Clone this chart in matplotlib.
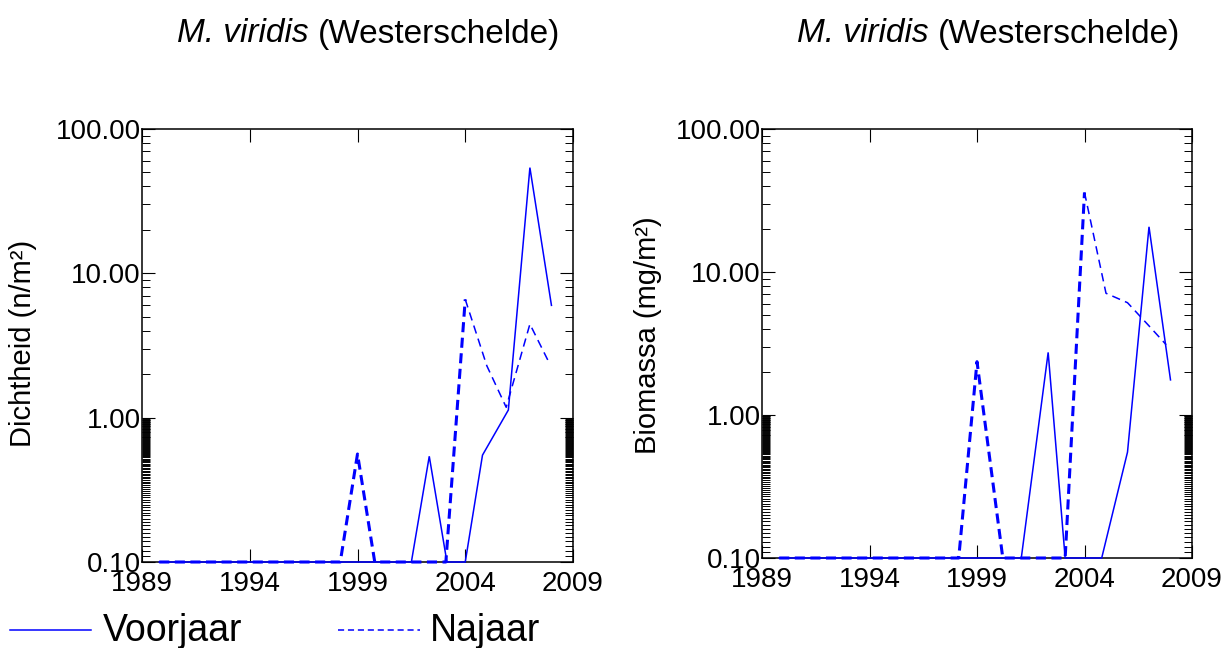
import matplotlib
matplotlib.use("Agg")
import matplotlib.pyplot as plt
from matplotlib.lines import Line2D
from matplotlib.ticker import FixedLocator, FormatStrFormatter, NullFormatter
import numpy as np

plt.rcParams['font.family'] = ['Liberation Sans', 'DejaVu Sans']

# ---- data (0.1 = plotted on the floor of the log axis) ----
dens_voor_x = [1989.8, 2001.5, 2002.33, 2003.15, 2004.0, 2004.8, 2006.0, 2007.0, 2008.0]
dens_voor_y = [0.1, 0.1, 0.54, 0.1, 0.1, 0.55, 1.13, 54.0, 6.0]
dens_naj_x = [1989.8, 1998.2, 1999.0, 1999.8, 2003.1, 2004.0, 2005.0, 2005.9, 2007.0, 2007.9]
dens_naj_y = [0.1, 0.1, 0.56, 0.1, 0.1, 6.6, 2.29, 1.18, 4.45, 2.39]

bio_voor_x = [1989.8, 2001.06, 2002.31, 2003.1, 2004.8, 2006.0, 2007.0, 2008.0]
bio_voor_y = [0.1, 0.1, 2.74, 0.1, 0.1, 0.55, 20.7, 1.76]
bio_naj_x = [1989.8, 1998.15, 1999.0, 2000.2, 2003.1, 2004.0, 2005.0, 2006.0, 2007.0, 2007.8]
bio_naj_y = [0.1, 0.1, 2.36, 0.1, 0.1, 36.0, 7.1, 6.1, 4.2, 3.1]

x_ticks = [1989, 1994, 1999, 2004, 2009]
y_ticks = [0.1, 1, 10, 100]
title_species = "M. viridis"
title_area = "(Westerschelde)"
ylabels = ["Dichtheid (n/m\u00b2)", "Biomassa (mg/m\u00b2)"]
series_names = ["Voorjaar", "Najaar"]

W, H = 1229, 648
fig = plt.figure(figsize=(W / 100, H / 100), dpi=100)

def fx(px):
    return px / W

def fy(py):
    return 1 - py / H

ax1 = fig.add_axes([fx(142), fy(562), fx(573 - 142), (562 - 129) / H])
ax2 = fig.add_axes([fx(762), fy(558), fx(1192 - 762), (558 - 129) / H])

blue = (0, 0, 1)
minor_pos = list(np.arange(0.11, 0.995, 0.01)) + [k * 1.0 for k in range(2, 10)] + [k * 10.0 for k in range(2, 10)]

def style(ax, vx, vy, nx, ny, ylabel, lab_x, lab_y):
    ax.plot(vx, vy, color=blue, lw=1.1, solid_joinstyle='miter', clip_on=False, zorder=3)
    k = nx.index(2004.0) + 1
    ax.plot(nx[:k], ny[:k], color=blue, lw=2.2, ls=(0, (3.3, 1.8)), clip_on=False, zorder=3)
    ax.plot(nx[k - 1:], ny[k - 1:], color=blue, lw=1.1, ls=(0, (5.5, 3.5)), clip_on=False, zorder=3)
    ax.set_yscale('log')
    ax.set_xlim(1989, 2009)
    ax.set_ylim(0.1, 100)
    ax.set_xticks(x_ticks)
    ax.set_xticklabels([str(t) for t in x_ticks])
    ax.yaxis.set_major_locator(FixedLocator(y_ticks))
    ax.yaxis.set_major_formatter(FormatStrFormatter('%.2f'))
    ax.yaxis.set_minor_locator(FixedLocator(minor_pos))
    ax.yaxis.set_minor_formatter(NullFormatter())
    ax.xaxis.set_minor_locator(FixedLocator([]))
    ax.tick_params(axis='both', which='major', direction='in', length=9.5, width=0.8,
                   labelsize=20, colors='black')
    ax.tick_params(axis='y', which='minor', direction='in', length=5.5, width=0.7, left=True, right=True)
    ax.tick_params(axis='x', which='major', top=True, bottom=True, pad=6.5)
    ax.tick_params(axis='y', which='major', left=True, right=True, pad=1)
    for s in ax.spines.values():
        s.set_linewidth(1.1)
    ax.set_ylabel(ylabel, fontsize=21)
    ax.yaxis.set_label_coords(lab_x, lab_y)

style(ax1, dens_voor_x, dens_voor_y, dens_naj_x, dens_naj_y, ylabels[0], -0.244, 0.505)
style(ax2, bio_voor_x, bio_voor_y, bio_naj_x, bio_naj_y, ylabels[1], -0.233, 0.52)

# titles
for off in (0, 620):
    fig.text(fx(309 + off), fy(34), title_species, style='italic', fontsize=24, ha='right', va='center')
    fig.text(fx(318 + off), fy(34), title_area, fontsize=24, ha='left', va='center')

# legend
fig.add_artist(Line2D([fx(10), fx(91)], [fy(630), fy(630)], color=blue, lw=1.1))
fig.text(fx(103), fy(631), series_names[0], fontsize=27, ha='left', va='center')
fig.add_artist(Line2D([fx(338), fx(420)], [fy(630), fy(630)], color=blue, lw=1.1, ls=(0, (4, 2.5))))
fig.text(fx(430), fy(631), series_names[1], fontsize=27, ha='left', va='center')

fig.savefig("out.png", dpi=100)
